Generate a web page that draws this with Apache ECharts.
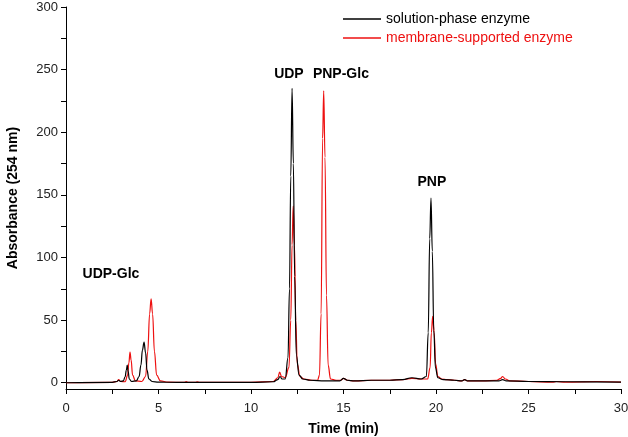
<!DOCTYPE html>
<html>
<head>
<meta charset="utf-8">
<script src="https://cdn.jsdelivr.net/npm/echarts@6/dist/echarts.min.js"></script>
<style>
  html, body { margin: 0; padding: 0; background: #fff; }
  #chart { width: 628px; height: 437px; }
</style>
</head>
<body>
<div id="chart"></div>
<script>
// solution-phase enzyme (black trace)
const solutionTime = [0, 2.5, 2.75, 2.85, 2.95, 3.1, 3.2, 3.26, 3.31, 3.36, 3.42, 3.55, 3.8, 3.95, 4.05, 4.13, 4.22, 4.3, 4.38, 4.48, 4.65, 5.0, 6.0, 8.0, 10.0, 11.2, 11.45, 11.57, 11.68, 11.85, 12.0, 12.08, 12.15, 12.22, 12.29, 12.36, 12.45, 12.6, 12.8, 13.2, 14.0, 14.8, 15.0, 15.2, 15.6, 16.5, 17.5, 18.2, 18.7, 19.2, 19.48, 19.58, 19.66, 19.73, 19.8, 19.88, 19.97, 20.1, 20.4, 21.0, 21.4, 21.55, 21.7, 22.5, 23.4, 23.6, 23.8, 25, 27, 30]
const solutionAbs = [0, 0.3, 1, 2, 1, 1.5, 5, 10, 14, 9, 3, 1, 1.5, 5, 14, 26, 32.5, 24, 10, 3, 1, 0.5, 0.3, 0.3, 0.3, 0.8, 2.5, 5, 3, 3, 20, 75, 165, 235, 175, 85, 22, 6, 3, 2, 1.5, 1.5, 3.5, 2, 1.5, 2, 2, 2.5, 4, 3, 5, 40, 115, 147.5, 105, 42, 12, 4, 2.5, 2, 1.5, 2.5, 1.5, 1.5, 1.5, 2.5, 1.5, 1, 0.8, 0.5]

// membrane-supported enzyme (red trace)
const membraneTime = [0, 2.5, 2.75, 2.85, 2.95, 3.2, 3.33, 3.4, 3.46, 3.52, 3.6, 3.75, 4.1, 4.3, 4.42, 4.52, 4.6, 4.68, 4.78, 4.9, 5.1, 5.5, 6.4, 6.5, 6.6, 7.0, 7.1, 7.2, 8, 10, 11.2, 11.45, 11.55, 11.65, 11.85, 12.05, 12.15, 12.22, 12.28, 12.35, 12.42, 12.5, 12.65, 12.85, 13.3, 13.6, 13.7, 13.79, 13.87, 13.93, 14.0, 14.08, 14.17, 14.3, 14.6, 14.85, 15.0, 15.2, 15.6, 16.5, 17.5, 18.2, 18.7, 19.2, 19.55, 19.68, 19.75, 19.82, 19.9, 19.98, 20.1, 20.3, 20.6, 21, 21.4, 21.55, 21.7, 22.5, 23.3, 23.5, 23.6, 23.75, 24, 25, 26.3, 26.5, 27, 28.7, 30]
const membraneAbs = [0, 0.3, 1, 2.5, 1, 0.8, 6, 16, 24.5, 18, 6, 1.5, 1, 5, 25, 55, 67, 55, 25, 6, 1.5, 0.5, 0.3, 1, 0.3, 0.3, 0.8, 0.3, 0.3, 0.3, 1, 4, 8.5, 5, 4, 12, 50, 110, 141, 110, 50, 15, 5, 3, 2, 2, 6, 55, 195, 233, 180, 70, 14, 3, 2, 2, 3.5, 2, 1.5, 2, 2, 2.5, 3.5, 3, 3, 12, 40, 53, 40, 15, 5, 3, 2.5, 2, 1.5, 2.5, 1.5, 1.5, 2, 3.5, 5, 3, 1.5, 1, 0.5, 1, 0.5, 1, 0.5]

// peak annotations
const peakNames = ['UDP-Glc', 'UDP', 'PNP-Glc', 'PNP']
const peakTimes = [2.43, 12.05, 14.86, 19.78]
const peakLevels = [87, 246, 246, 160]

const yTicks = [0, 25, 50, 75, 100, 125, 150, 175, 200, 225, 250, 275, 300]
const yLabels = [0, 50, 100, 150, 200, 250, 300]

const zip = (xs, ys) => xs.map((x, i) => [x, ys[i]])

const chart = echarts.init(document.getElementById('chart'))
const font = 'Liberation Sans, Arial, sans-serif'

chart.setOption({
  animation: false,
  textStyle: { fontFamily: font },
  grid: { left: 66, right: 7, top: 7, bottom: 48, outerBoundsMode: 'none' },
  legend: {
    orient: 'vertical',
    left: 338,
    top: 7,
    icon: 'rect',
    itemWidth: 38,
    itemHeight: 1.3,
    itemGap: 5,
    textStyle: { fontSize: 14, fontFamily: font },
    data: [
      { name: 'solution-phase enzyme', textStyle: { color: '#000' } },
      { name: 'membrane-supported enzyme', textStyle: { color: '#ee1111' } }
    ]
  },
  xAxis: {
    type: 'value',
    min: 0,
    max: 30,
    interval: 2.5,
    name: 'Time (min)',
    nameLocation: 'middle',
    nameGap: 33,
    nameTextStyle: { fontSize: 14, fontWeight: 'bold', color: '#000', fontFamily: font },
    axisLine: { onZero: false, lineStyle: { color: '#000', width: 1 } },
    axisTick: { length: 5, lineStyle: { color: '#000' } },
    axisLabel: {
      fontSize: 13, color: '#222', margin: 13, fontFamily: font,
      formatter: v => (v % 5 === 0 ? String(v) : '')
    },
    splitLine: { show: false }
  },
  yAxis: {
    type: 'value',
    min: -5,
    max: 300,
    name: 'Absorbance (254 nm)',
    nameLocation: 'middle',
    nameGap: 46,
    nameTextStyle: { fontSize: 14, fontWeight: 'bold', color: '#000', fontFamily: font },
    axisLine: { show: true, lineStyle: { color: '#000', width: 1 } },
    axisTick: { show: true, length: 5, customValues: yTicks, lineStyle: { color: '#000' } },
    axisLabel: { fontSize: 13, color: '#222', margin: 8, customValues: yLabels, fontFamily: font },
    splitLine: { show: false }
  },
  series: [
    {
      name: 'solution-phase enzyme',
      type: 'line',
      data: zip(solutionTime, solutionAbs),
      symbol: 'none',
      smooth: 0.4,
      smoothMonotone: 'x',
      z: 3,
      lineStyle: { color: '#000', width: 1.2 },
      itemStyle: { color: '#000' },
      markPoint: {
        symbol: 'circle',
        symbolSize: 0,
        label: {
          show: true, position: 'inside', color: '#000',
          fontSize: 14, fontWeight: 'bold', fontFamily: font,
          formatter: p => p.name
        },
        data: peakNames.map((n, i) => ({ name: n, coord: [peakTimes[i], peakLevels[i]] }))
      }
    },
    {
      name: 'membrane-supported enzyme',
      type: 'line',
      data: zip(membraneTime, membraneAbs),
      symbol: 'none',
      smooth: 0.4,
      smoothMonotone: 'x',
      z: 2,
      lineStyle: { color: '#ee1111', width: 1.2 },
      itemStyle: { color: '#ee1111' }
    }
  ]
})
</script>
</body>
</html>
